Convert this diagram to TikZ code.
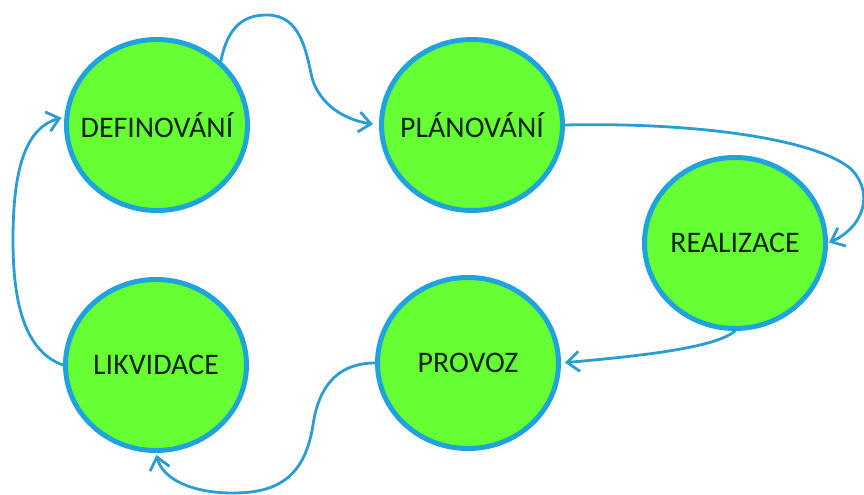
\documentclass[tikz,border=0pt]{standalone}
\usepackage{fontspec}
\setmainfont{Carlito}
\usetikzlibrary{shapes.geometric,arrows.meta}
\definecolor{cblue}{HTML}{1FA3DC}
\definecolor{ablue}{HTML}{2A9DD4}
\definecolor{cgreen}{HTML}{66FF33}
\definecolor{ctext}{HTML}{0B220B}
\newcommand{\stagetext}[1]{\makebox[0pt][c]{#1}}
\begin{document}
\begin{tikzpicture}[x=1bp,y=-1bp,
  stage/.style={ellipse, draw=cblue, line width=5bp, fill=cgreen,
    minimum width=181bp, minimum height=171bp, inner sep=0pt,
    font=\fontsize{30}{36}\selectfont, text=ctext},
  conn/.style={draw=ablue, line width=2.8bp, line cap=round,
    -{Straight Barb[length=12bp,width=20bp]}}]
\useasboundingbox[fill=white] (0,0) rectangle (864,495);
\node[stage] (A) at (157,125) {\stagetext{DEFINOVÁNÍ}};
\node[stage] (B) at (472,125) {\stagetext{PLÁNOVÁNÍ}};
\node[stage] (C) at (735,243) {\stagetext{REALIZACE}};
\node[stage] (D) at (468,363) {\stagetext{PROVOZ}};
\node[stage] (E) at (156,365) {\stagetext{LIKVIDACE}};
% A -> B
\draw[conn, shorten >=6bp] (A.45) .. controls (228,25) and (245,15) .. (267,15)
  .. controls (300,15) and (306,50) .. (312,78)
  .. controls (320,105) and (345,120) .. (B.180);
% B -> C
\draw[conn, shorten >=1bp] (B.east) .. controls (700,122) and (820,140) .. (852,170)
  .. controls (875,195) and (862,228) .. (C.east);
% C -> D
\draw[conn, shorten >=4bp] (C.south) .. controls (715,348) and (640,356) .. (D.east);
% D -> E
\draw[conn, shorten >=2bp] (D.west) .. controls (335,363) and (318,390) .. (313,425)
  .. controls (305,475) and (280,493) .. (233,493)
  .. controls (190,493) and (162,478) .. (E.south);
% E -> A
\draw[conn, shorten >=3bp] (E.west) .. controls (20,350) and (13,290) .. (13,240)
  .. controls (13,170) and (25,128) .. (A.175);
\end{tikzpicture}
\end{document}
